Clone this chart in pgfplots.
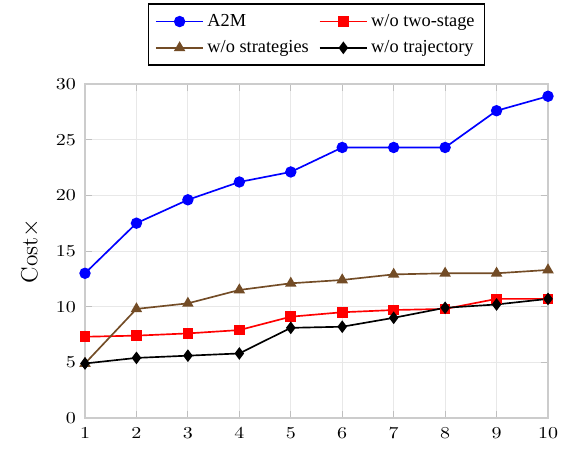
\documentclass[border=0pt]{standalone}
\usepackage{pgfplots}
\pgfplotsset{compat=1.18}
\usepackage{fontspec}
\newfontfamily\legfont{Liberation Serif}
\newfontfamily\tickfont{Latin Modern Roman}[FakeStretch=1.2]
\definecolor{mybrown}{rgb}{0.45,0.3,0.15}
\begin{document}
\begin{tikzpicture}
\begin{axis}[
  scale only axis,
  width=277.8pt, height=200.4pt,
  xmin=1, xmax=10, ymin=0, ymax=30,
  xtick={1,2,...,10}, ytick={0,5,...,30},
  /pgf/number format/assume math mode=true,
  ticklabel style={font=\tickfont\fontsize{10}{12}\selectfont},
  xticklabel style={yshift=-2pt},
  yticklabel style={xshift=-2pt},
  grid=major,
  grid style={gray!18, line width=0.6pt},
  axis line style={gray!40, line width=1pt},
  tick style={gray!50, line width=0.6pt},
  ylabel={\fontsize{14}{16}\selectfont Cost$\times$},
  ylabel shift=3pt,
  legend columns=2,
  legend cell align=left,
  legend style={at={(0.5,1)}, yshift=10.8pt, anchor=south, draw=black, line width=1pt,
    font=\legfont\fontsize{11}{13}\selectfont, /tikz/every even column/.append style={column sep=4pt},
    row sep=3pt, inner xsep=4pt, inner ysep=4pt},
  legend image code/.code={\draw[line width=1pt, mark repeat=2,mark phase=2] plot coordinates {(0cm,0cm) (0.5cm,0cm) (1cm,0cm)};},
  every axis plot/.append style={line width=1pt},
]
\addplot[blue, mark=*, mark size=2.9pt] coordinates {(1,13.0) (2,17.5) (3,19.6) (4,21.2) (5,22.1) (6,24.3) (7,24.3) (8,24.3) (9,27.6) (10,28.9)};
\addlegendentry{A2M}
\addplot[red, mark=square*, mark size=2.7pt] coordinates {(1,7.3) (2,7.4) (3,7.6) (4,7.9) (5,9.1) (6,9.5) (7,9.7) (8,9.8) (9,10.7) (10,10.7)};
\addlegendentry{w/o two-stage}
\addplot[mybrown, mark=triangle*, mark size=3pt] coordinates {(1,4.9) (2,9.8) (3,10.3) (4,11.5) (5,12.1) (6,12.4) (7,12.9) (8,13.0) (9,13.0) (10,13.3)};
\addlegendentry{w/o strategies}
\addplot[black, mark=diamond*, mark size=3pt] coordinates {(1,4.9) (2,5.4) (3,5.6) (4,5.8) (5,8.1) (6,8.2) (7,9.0) (8,9.9) (9,10.2) (10,10.7)};
\addlegendentry{w/o trajectory}
\end{axis}
\path (current axis.south west) ++(-51pt,-18pt) coordinate (bl);
\path (current axis.north east) ++(12.6pt,50.4pt) coordinate (tr);
\useasboundingbox (bl) rectangle (tr);
\end{tikzpicture}
\end{document}
